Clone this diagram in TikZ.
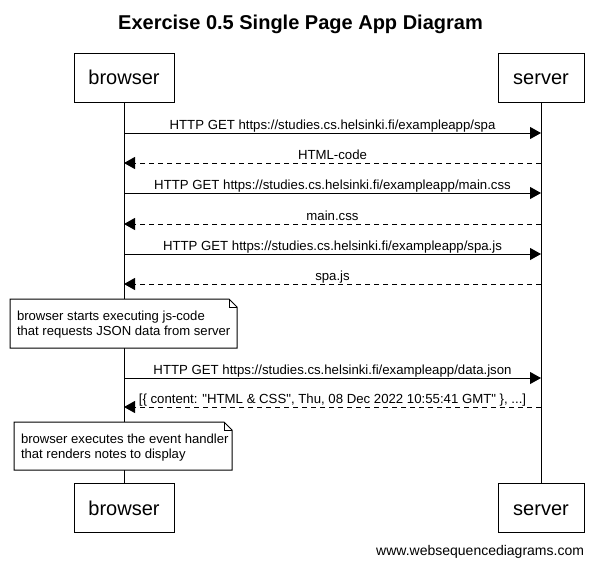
\documentclass[tikz,border=0pt]{standalone}
\usepackage{fontspec}
\setmainfont{Liberation Sans}[Ligatures=TeXOff]
\usetikzlibrary{arrows.meta}
\begin{document}
\begin{tikzpicture}[x=1pt,y=-1pt,
  every node/.style={inner sep=0pt, outer sep=0pt},
  actor/.style={draw, line width=1pt, minimum width=#1, minimum height=49pt,
    font=\fontsize{20}{24}\selectfont, text height=14.6pt, text depth=0pt},
  life/.style={line width=1pt},
  req/.style={line width=1pt, -{Triangle[length=11pt,width=12pt]}},
  resp/.style={line width=1pt, dash pattern=on 5pt off 4pt, -{Triangle[length=11pt,width=12pt]}},
  lbl/.style={anchor=base, yshift=4pt, font=\fontsize{13.2}{15}\selectfont},
  notebox/.style={line width=1pt, fill=white},
  notetext/.style={anchor=north west, align=left, font=\fontsize{13.1}{15.2}\selectfont},
  titlefont/.style={anchor=base, font=\fontsize{20}{24}\selectfont\bfseries},
  footer/.style={anchor=base east, font=\fontsize{14}{17}\selectfont}
]
\useasboundingbox[fill=white] (0,0) rectangle (599,566);

\node[titlefont] (title) at (300.5,29.5) {Exercise 0.5 Single Page App Diagram};

% participants
\node[actor=100pt] (bt) at (124,77.5) {browser};
\node[actor=86pt]  (st) at (541,77.5) {server};
\node[actor=100pt] (bb) at (124,508) {browser};
\node[actor=86pt]  (sb) at (541,508) {server};

% lifelines
\draw[life] (bt.south) -- (bb.north);
\draw[life] (st.south) -- (sb.north);

% message anchor points
\foreach \i/\y in {1/133,2/163,3/193,4/224,5/254,6/284,7/378,8/407}{
  \coordinate (b\i) at (124,\y);
  \coordinate (s\i) at (541,\y);
}

\draw[req]  (b1) -- node[lbl] {HTTP GET https://studies.cs.helsinki.fi/exampleapp/spa} (s1);
\draw[resp] (s2) -- node[lbl] {HTML-code} (b2);
\draw[req]  (b3) -- node[lbl] {HTTP GET https://studies.cs.helsinki.fi/exampleapp/main.css} (s3);
\draw[resp] (s4) -- node[lbl] {main.css} (b4);
\draw[req]  (b5) -- node[lbl] {HTTP GET https://studies.cs.helsinki.fi/exampleapp/spa.js} (s5);
\draw[resp] (s6) -- node[lbl] {spa.js} (b6);

% note 1
\coordinate (n1a) at (10,299);
\coordinate (n1b) at (229,299);
\coordinate (n1c) at (237,307);
\coordinate (n1d) at (237,348);
\coordinate (n1e) at (10,348);
\coordinate (n1f) at (229,307);
\draw[notebox] (n1a) -- (n1b) -- (n1c) -- (n1d) -- (n1e) -- cycle;
\draw[line width=1pt] (n1b) -- (n1f) -- (n1c);
\node[notetext] (n1) at (17,310.5) {browser starts executing js-code\\that requests JSON data from server};

\draw[req]  (b7) -- node[lbl] {HTTP GET https://studies.cs.helsinki.fi/exampleapp/data.json} (s7);
\draw[resp] (s8) -- node[lbl] {[\{ content: "HTML \& CSS", Thu, 08 Dec 2022 10:55:41 GMT" \}, ...]} (b8);

% note 2
\coordinate (n2a) at (14,422);
\coordinate (n2b) at (224,422);
\coordinate (n2c) at (232,430);
\coordinate (n2d) at (232,470);
\coordinate (n2e) at (14,470);
\coordinate (n2f) at (224,430);
\draw[notebox] (n2a) -- (n2b) -- (n2c) -- (n2d) -- (n2e) -- cycle;
\draw[line width=1pt] (n2b) -- (n2f) -- (n2c);
\node[notetext] (n2) at (21,433.5) {browser executes the event handler\\that renders notes to display};

\node[footer] (foot) at (584,555) {www.websequencediagrams.com};
\end{tikzpicture}
\end{document}
